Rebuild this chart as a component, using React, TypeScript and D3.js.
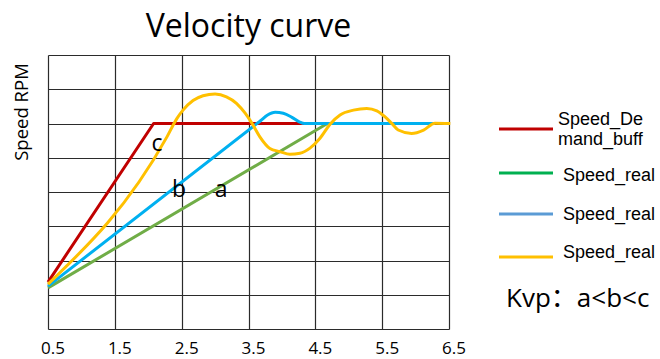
import React from "react";
import * as d3 from "d3";

const W = 660;
const H = 359;

const title = "Velocity curve";
const yAxisTitle = "Speed RPM";
const xTicks = [0.5, 1.5, 2.5, 3.5, 4.5, 5.5, 6.5];
const yGrid = [0, 1, 2, 3, 4, 5, 6, 7, 8];

// Speed_Demand_buff (c)
const demandX = [0.5, 2.08, 6.3];
const demandY = [1.37, 6.0, 6.0];
// Speed_real a (green)
const realAX = [0.5, 4.68, 6.29];
const realAY = [1.2, 6.0, 6.0];
// Speed_real b (blue)
const realBX = [0.5, 3.6, 3.68, 3.78, 3.9, 4.02, 4.15, 4.26, 4.34, 6.29];
const realBY = [1.25, 5.96, 6.08, 6.24, 6.33, 6.3, 6.18, 6.05, 6.0, 6.0];
// Speed_real c (yellow)
const realCX = [0.5, 2.28, 2.43, 2.52, 2.67, 2.82, 3.0, 3.17, 3.32, 3.45, 3.55, 3.67, 3.82, 3.97, 4.12, 4.27, 4.42, 4.57, 4.72, 4.87, 5.07, 5.27, 5.42, 5.54, 5.64, 5.74, 5.94, 6.12, 6.29, 6.52];
const realCY = [1.31, 5.61, 6.15, 6.39, 6.67, 6.81, 6.86, 6.78, 6.59, 6.3, 6.01, 5.61, 5.27, 5.18, 5.1, 5.13, 5.28, 5.57, 5.98, 6.25, 6.39, 6.44, 6.37, 6.2, 6.01, 5.81, 5.71, 5.81, 6.01, 6.0];

const legendLabels = [["Speed_De", "mand_buff"], ["Speed_real"], ["Speed_real"], ["Speed_real"]];
const curveLabels = ["a", "b", "c"];
const curveLabelX = [3.09, 2.46, 2.13];
const curveLabelY = [3.85, 3.85, 5.2];
const note = "Kvp：a<b<c";

const FONT = "'Open Sans', 'Noto Sans CJK SC', sans-serif";
const LEGEND_FONT = "'Liberation Sans', Arial, sans-serif";

export default function App() {
  const x = d3.scaleLinear().domain([0.5, 6.5]).range([48, 449]);
  const y = d3.scaleLinear().domain([0, 8]).range([329, 55]);

  const zip = (xs: number[], ys: number[]) => xs.map((v, i) => [v, ys[i]] as [number, number]);
  const linear = d3.line<[number, number]>().x((d) => x(d[0])).y((d) => y(d[1]));
  const smooth = d3
    .line<[number, number]>()
    .x((d) => x(d[0]))
    .y((d) => y(d[1]))
    .curve(d3.curveMonotoneX);

  const series = [
    { d: linear(zip(demandX, demandY)), color: "#C00000" },
    { d: linear(zip(realAX, realAY)), color: "#70AD47" },
    { d: smooth(zip(realBX, realBY)), color: "#00B0F0" },
    { d: smooth(zip(realCX, realCY)), color: "#FFC000" },
  ];

  const legendColors = ["#C00000", "#00B050", "#5B9BD5", "#FFC000"];
  const legendLineY = [129, 173, 214, 257];
  const legendTextY = [[124.5, 145], [181], [219.5], [258]];
  const legendTextX = [558, 563, 563, 563];

  const crisp = (v: number) => Math.round(v) + 0.5;

  return (
    <svg
      width={W}
      height={H}
      style={{ position: "absolute", left: 0, top: 0, background: "#fff" }}
      fontFamily={FONT}
    >
      <rect x={0} y={0} width={W} height={H} fill="#fff" />
      {/* grid */}
      <g stroke="#2b2b2b" strokeWidth={1.2}>
        {xTicks.map((t) => (
          <line key={"v" + t} x1={crisp(x(t))} x2={crisp(x(t))} y1={crisp(y(8))} y2={crisp(y(0))} />
        ))}
        {yGrid.map((t) => (
          <line key={"h" + t} x1={crisp(x(0.5))} x2={crisp(x(6.5))} y1={crisp(y(t))} y2={crisp(y(t))} />
        ))}
      </g>
      {/* series */}
      {series.map((s, i) => (
        <path key={i} d={s.d || ""} fill="none" stroke={s.color} strokeWidth={3} strokeLinejoin="round" />
      ))}
      {/* curve labels */}
      {curveLabels.map((l, i) => (
        <text key={l} x={x(curveLabelX[i])} y={y(curveLabelY[i])} fontSize={23} textAnchor="middle" fill="#000">
          {l}
        </text>
      ))}
      {/* x tick labels */}
      {xTicks.map((t) => (
        <text key={"t" + t} x={x(t) + 5} y={354} fontSize={17} textAnchor="middle" fill="#000">
          {String(t)}
        </text>
      ))}
      {/* title */}
      <text x={248.5} y={37} fontSize={32} textAnchor="middle" fill="#000">
        {title}
      </text>
      {/* y axis title */}
      <text transform="translate(28,112) rotate(-90)" fontSize={18.5} textAnchor="middle" fill="#000">
        {yAxisTitle}
      </text>
      {/* legend */}
      {legendLabels.map((lines, i) => (
        <g key={"lg" + i}>
          <line x1={499} x2={553} y1={legendLineY[i]} y2={legendLineY[i]} stroke={legendColors[i]} strokeWidth={3.2} />
          {lines.map((ln, j) => (
            <text key={j} x={legendTextX[i]} y={legendTextY[i][j]} fontSize={18} fill="#000" fontFamily={LEGEND_FONT}>
              {ln}
            </text>
          ))}
        </g>
      ))}
      <text x={506} y={306.5} fontSize={26} fill="#000">
        {note}
      </text>
    </svg>
  );
}
